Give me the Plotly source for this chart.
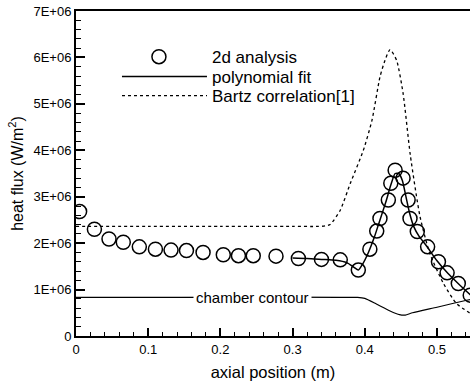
import plotly.graph_objects as go

# 2d analysis (circles)
cfd_x = [0.005, 0.0255, 0.0457, 0.0655, 0.0877, 0.110, 0.1316, 0.153, 0.176, 0.204,
         0.225, 0.2455, 0.277, 0.308, 0.340, 0.366, 0.391, 0.407, 0.4165, 0.421,
         0.4326, 0.436, 0.442, 0.453, 0.460, 0.4626, 0.4727, 0.487, 0.502, 0.514,
         0.5295, 0.546]
cfd_y = [2.68, 2.30, 2.09, 2.02, 1.92, 1.87, 1.85, 1.84, 1.80, 1.75,
         1.73, 1.73, 1.72, 1.67, 1.65, 1.64, 1.42, 1.87, 2.26, 2.53,
         2.93, 3.29, 3.57, 3.40, 2.93, 2.53, 2.25, 1.92, 1.60, 1.36,
         1.13, 0.88]

# polynomial fit
fit_x = [0.300, 0.320, 0.340, 0.360, 0.375, 0.385, 0.391, 0.397, 0.405, 0.413,
         0.421, 0.429, 0.436, 0.442, 0.447, 0.452, 0.457, 0.462, 0.468, 0.475,
         0.485, 0.500, 0.515, 0.530, 0.548]
fit_y = [1.68, 1.67, 1.65, 1.63, 1.58, 1.48, 1.42, 1.55, 1.80, 2.12,
         2.50, 2.88, 3.25, 3.50, 3.50, 3.35, 3.00, 2.65, 2.35, 2.15,
         1.95, 1.62, 1.35, 1.12, 0.86]

# Bartz correlation
bartz_x = [0.0, 0.10, 0.20, 0.30, 0.335, 0.345, 0.352, 0.366, 0.380, 0.398,
           0.410, 0.421, 0.428, 0.435, 0.444, 0.453, 0.463, 0.4765, 0.490, 0.509,
           0.527, 0.548]
bartz_y = [2.36, 2.36, 2.36, 2.36, 2.36, 2.37, 2.40, 2.71, 3.29, 4.00,
           4.65, 5.58, 5.94, 6.17, 5.94, 5.23, 3.90, 2.57, 1.78, 1.13,
           0.70, 0.47]

# chamber contour (scaled geometry)
cont_x = [0.0, 0.39, 0.40, 0.416, 0.435, 0.448, 0.456, 0.466, 0.50, 0.541, 0.548]
cont_y = [0.83, 0.83, 0.81, 0.69, 0.54, 0.46, 0.45, 0.50, 0.62, 0.77, 0.79]

scale = 1e6
x_ticks = [0, 0.1, 0.2, 0.3, 0.4, 0.5]
x_ticktext = ["0", "0.1", "0.2", "0.3", "0.4", "0.5"]
y_ticks = [0, 1e6, 2e6, 3e6, 4e6, 5e6, 6e6, 7e6]
y_ticktext = ["0", "1E+06", "2E+06", "3E+06", "4E+06", "5E+06", "6E+06", "7E+06"]

FONT = "Liberation Sans, Arial, sans-serif"

fig = go.Figure()
fig.add_trace(go.Scatter(
    x=cont_x, y=[v * scale for v in cont_y], mode="lines",
    line=dict(color="black", width=1.2, shape="spline", smoothing=0.5),
    showlegend=False, hoverinfo="skip"))
fig.add_trace(go.Scatter(
    x=cfd_x, y=[v * scale for v in cfd_y], mode="markers", name="2d analysis",
    legend="legend",
    marker=dict(symbol="circle-open", size=14, color="black", line=dict(width=1.5))))
fig.add_trace(go.Scatter(
    x=fit_x, y=[v * scale for v in fit_y], mode="lines", name="polynomial fit",
    legend="legend2",
    line=dict(color="black", width=1.5, shape="spline", smoothing=0.6)))
fig.add_trace(go.Scatter(
    x=bartz_x, y=[v * scale for v in bartz_y], mode="lines", name="Bartz correlation[1]",
    legend="legend3",
    line=dict(color="black", width=1.3, dash="dot", shape="spline", smoothing=0.6)))

fig.add_annotation(x=0.244, y=0.82e6, text="chamber contour", showarrow=False,
                   font=dict(family=FONT, size=15, color="black"),
                   bgcolor="white", borderpad=2)

leg_common = dict(xanchor="left", yanchor="middle", bgcolor="rgba(0,0,0,0)",
                  font=dict(family=FONT, size=17, color="black"))

fig.update_layout(
    width=470, height=382,
    margin=dict(l=76, r=0, t=11, b=46),
    paper_bgcolor="white", plot_bgcolor="white",
    font=dict(family=FONT, color="black"),
    legend=dict(x=0.076, y=0.858, itemwidth=96, **leg_common),
    legend2=dict(x=0.104, y=0.797, itemwidth=85, **leg_common),
    legend3=dict(x=0.104, y=0.738, itemwidth=85, **leg_common),
    xaxis=dict(range=[0, 0.5457], tickvals=x_ticks, ticktext=x_ticktext,
               showgrid=False, zeroline=False, showline=True, linecolor="black",
               linewidth=2, mirror=True, ticks="inside", ticklen=8, tickwidth=1.5,
               tickcolor="black", tickfont=dict(family=FONT, size=13, color="black"),
               minor=dict(dtick=0.02, ticks="inside", ticklen=4, tickwidth=1, tickcolor="black"),
               title=dict(text="axial position (m)", font=dict(family=FONT, size=16.5),
                          standoff=11)),
    yaxis=dict(range=[0, 7e6], tickvals=y_ticks, ticktext=y_ticktext,
               showgrid=False, zeroline=False, showline=True, linecolor="black",
               linewidth=2, ticks="inside", ticklen=9, tickwidth=1.5,
               ticklabeloverflow="allow",
               tickcolor="black", tickfont=dict(family=FONT, size=13, color="black"),
               minor=dict(dtick=2e5, ticks="inside", ticklen=5, tickwidth=1, tickcolor="black"),
               title=dict(text="heat flux (W/m<sup>2</sup>)", font=dict(family=FONT, size=16),
                          standoff=6)),
)

# remove the browser's default 8px body margin so the figure sits at the page origin
fig.write_html("out.html",
               config={"displayModeBar": False},
               post_script="document.body.style.margin='0';document.body.style.padding='0';")
